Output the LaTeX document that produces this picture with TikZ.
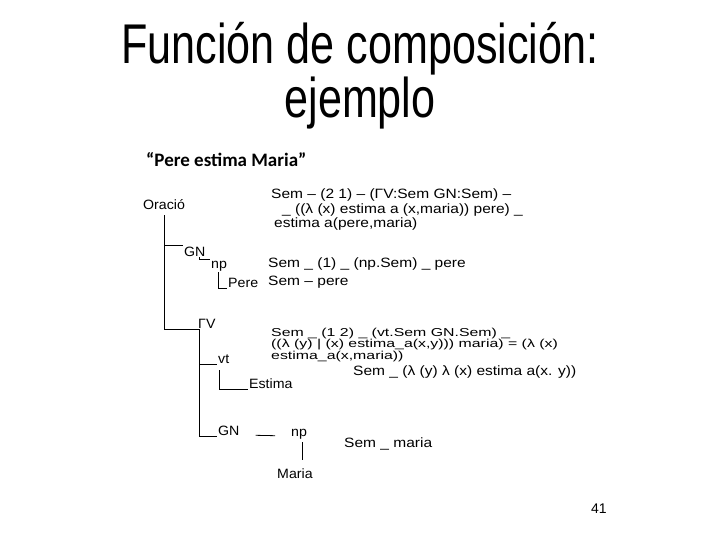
\documentclass[tikz,border=0pt]{standalone}
\usepackage{fontspec}
\setmainfont{Liberation Sans}
\newfontfamily\titlefont[FakeStretch=0.77]{Liberation Sans}
\newfontfamily\semfont[FakeStretch=1.15]{Liberation Sans}
\newfontfamily\semsmallfont[FakeStretch=1.38]{Liberation Sans}
\newfontfamily\treefont[FakeStretch=1.05]{Liberation Sans}
\newfontfamily\quotefont{Carlito}

\begin{document}
\begin{tikzpicture}[x=1pt, y=-1pt, every node/.style={inner sep=1pt}]

\useasboundingbox (0,0) rectangle (720,540);

\tikzset{
  treelabel/.style={anchor=base west, font=\treefont\fontsize{13.5}{14}\selectfont},
  semline/.style={anchor=base west, font=\semfont\fontsize{13.5}{14}\selectfont},
  semblock/.style={anchor=north west, inner sep=0pt, align=left},
  branch/.style={draw=black, line width=0.8pt}
}

% ---------- titulo ----------
\node[anchor=north, align=center, inner sep=0pt,
      font=\titlefont\fontsize{56}{45}\selectfont] (title) at (360,22.5)
  {Función de composición:\\ejemplo};
\node[anchor=base west, font=\quotefont\bfseries\fontsize{19}{22}\selectfont] (frase) at (145,167) {“Pere estima Maria”};

% ---------- arbol ----------
\node[treelabel] (oracio) at (142,210) {Oració};
\node[treelabel] (gn1)    at (183,256) {GN};
\node[treelabel] (np1)    at (210,268) {np};
\node[treelabel] (pere)   at (227,287) {Pere};
\node[treelabel] (fv)     at (197,328) {ΓV};
\node[treelabel] (vt)     at (217,363) {vt};
\node[treelabel] (estima) at (248,388) {Estima};
\node[treelabel] (gn2)    at (217,435) {GN};
\node[treelabel] (np2)    at (290,436) {np};
\node[treelabel] (maria)  at (276,478) {Maria};

% ---------- ramas ----------
\draw[branch] ([yshift=-4pt]oracio.south) |- ([xshift=2pt]fv.south west);
\draw[branch] (oracio.south |- gn1.north west) -- (gn1.north west);
\draw[branch] ([xshift=-7pt]gn1.south east) |- (np1.north west);
\draw[branch] ([xshift=8pt]np1.south west) |- (pere.south west);
\draw[branch] ([xshift=2pt]fv.south west) |- (gn2.south west);
\draw[branch] ([xshift=2pt]fv.south west |- vt.south west) -- (vt.south west);
\draw[branch] ([xshift=2pt,yshift=-6pt]vt.south west) |- (estima.south west);
\draw[branch, shorten <=15pt, shorten >=15pt] (gn2.base east) -- (np2.base west);
\draw[branch, shorten >=7pt] ([xshift=3pt,yshift=-2pt]np2.south) -- ([xshift=3pt]np2.south |- maria.north);

% ---------- semantica ----------
\node[semblock, font=\semfont\fontsize{13.5}{14.2}\selectfont] (semA) at (271,189)
  {Sem – (2 1) – (ΓV:Sem GN:Sem) –\\
   \hspace*{11pt}\_ ((λ (x) estima a (x,maria)) pere) \_\\
   \hspace*{3pt}estima a(pere,maria)};

\node[semline] (semB-1) at (267,267) {Sem \_ (1) \_ (np.Sem) \_ pere};
\node[semline] (semB-2) at (267,285) {Sem – pere};

\node[semblock, font=\semsmallfont\fontsize{11.5}{10.6}\selectfont] (semC) at (271,327.6)
  {Sem \_ (1 2) \_ (vt.Sem GN.Sem) \_\\
   ((λ (y) | (x) estima\_a(x,y))) maria) = (λ (x)\\
   estima\_a(x,maria))};
\node[semline] (semC-4) at (352,375) {Sem \_ (λ (y) λ (x) estima a(x. y))};

\node[semline] (semD) at (343,447) {Sem \_ maria};

% ---------- numero ----------
\node[anchor=base west, font=\fontsize{14}{16}\selectfont] (pagina) at (590,513) {41};

\end{tikzpicture}
\end{document}
